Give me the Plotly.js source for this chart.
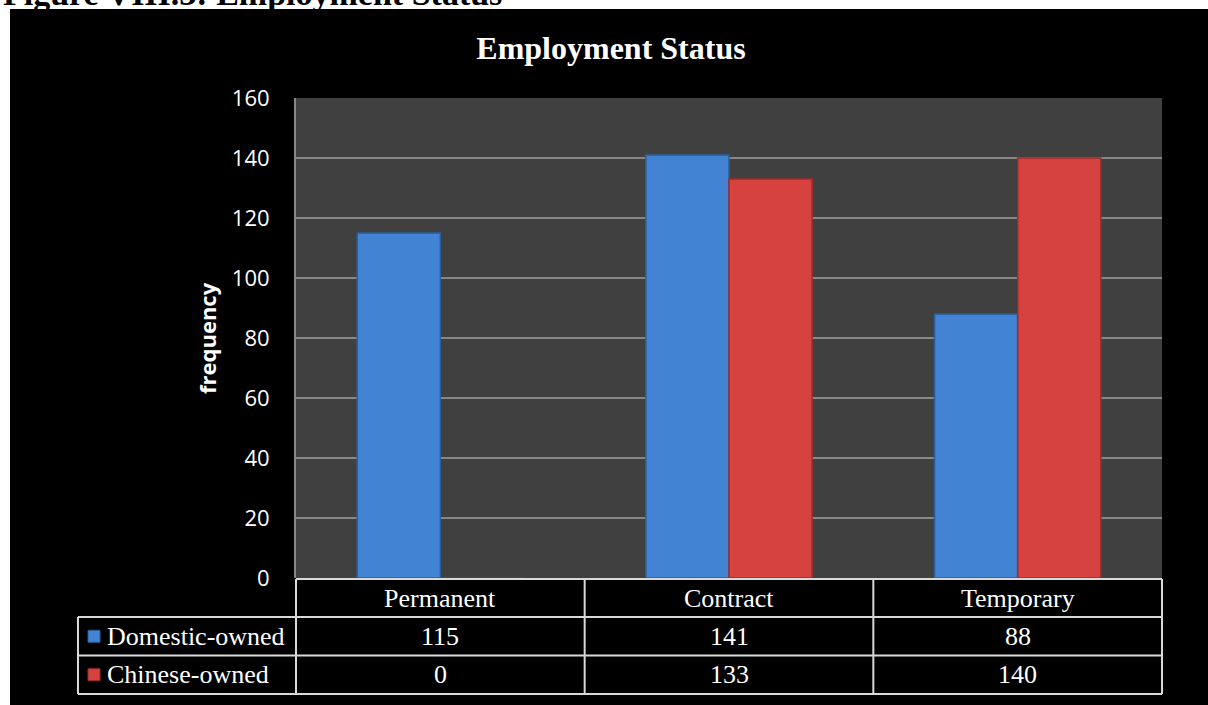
<!DOCTYPE html>
<html>
<head>
<meta charset="utf-8">
<script src="https://cdn.plot.ly/plotly-3.0.1.min.js"></script>
<style>html,body{margin:0;padding:0;background:#fff;}#chart{width:1208px;height:705px;}</style>
</head>
<body>
<div id="chart"></div>
<script>
// ---- data ----
const categories = ['Permanent', 'Contract', 'Temporary'];
const seriesNames = ['Domestic-owned', 'Chinese-owned'];
const domesticOwned = [115, 141, 88];
const chineseOwned = [0, 133, 140];
const yTickValues = [0, 20, 40, 60, 80, 100, 120, 140, 160];
const chartTitle = 'Employment Status';
const figureCaption = 'Figure VIII.3: Employment Status';
const yAxisTitle = 'frequency';

// ---- geometry helpers (pixel -> paper) ----
const W = 1208, H = 705, L = 296, R = 1162, T = 98, B = 578;
const xp = px => (px - L) / (R - L);
const yp = py => (B - py) / (B - T);

const serif = 'Liberation Serif, Times New Roman, serif';
const sans = 'Open Sans, Liberation Sans, sans-serif';
const lineCol = '#d9d9d9';
const blue = '#4383d3', blueEdge = '#2c5e9c';
const red = '#d5423f', redEdge = '#9a2d2b';

const traces = [
  {type: 'bar', name: seriesNames[0], x: categories, y: domesticOwned,
   marker: {color: blue, line: {color: blueEdge, width: 1.5}}, hoverinfo: 'x+y+name'},
  {type: 'bar', name: seriesNames[1], x: categories, y: chineseOwned,
   marker: {color: red, line: {color: redEdge, width: 1.5}}, hoverinfo: 'x+y+name'}
];

const shapes = [];
const annotations = [];
function hline(py, px0, px1) {
  shapes.push({type: 'line', xref: 'paper', yref: 'paper', x0: xp(px0), x1: xp(px1), y0: yp(py), y1: yp(py),
               line: {color: lineCol, width: 2}, layer: 'above'});
}
function vlineX(xval, xref, py0, py1) {
  shapes.push({type: 'line', xref: xref, yref: 'paper', x0: xval, x1: xval, y0: yp(py0), y1: yp(py1),
               line: {color: lineCol, width: 2}, layer: 'above'});
}
// white page strips outside the black chart box
shapes.push({type: 'rect', xref: 'paper', yref: 'paper', x0: xp(-5), x1: xp(W + 5), y0: yp(9), y1: yp(-5),
             fillcolor: '#ffffff', line: {width: 0}, layer: 'above'});
shapes.push({type: 'rect', xref: 'paper', yref: 'paper', x0: xp(-5), x1: xp(10), y0: yp(H + 5), y1: yp(-5),
             fillcolor: '#ffffff', line: {width: 0}, layer: 'above'});

// data table grid
const rowTop = 579, row1 = 617, row2 = 655.5, rowBot = 694, legLeft = 78;
hline(rowTop, L, R);
hline(row1, legLeft, R);
hline(row2, legLeft, R);
hline(rowBot, legLeft, R);
vlineX(xp(legLeft), 'paper', row1, rowBot);
vlineX(0, 'paper', rowTop, rowBot);
vlineX(1, 'paper', rowTop, rowBot);
for (let i = 0; i < categories.length - 1; i++) vlineX(i + 0.5, 'x', rowTop, rowBot);

// legend keys
const keyColors = [blue, red];
const rowCenters = [(row1 + row2) / 2, (row2 + rowBot) / 2];
seriesNames.forEach((nm, i) => {
  const cy = rowCenters[i];
  shapes.push({type: 'rect', xref: 'paper', yref: 'paper', x0: xp(88), x1: xp(100), y0: yp(cy + 6), y1: yp(cy - 6),
               fillcolor: keyColors[i], line: {color: i === 0 ? blueEdge : redEdge, width: 1}, layer: 'above'});
  annotations.push({xref: 'paper', yref: 'paper', x: xp(105), y: yp(cy), xanchor: 'left', yanchor: 'middle',
                    text: nm, showarrow: false, font: {family: serif, size: 26, color: '#ffffff'}});
});
// header row and values
const seriesValues = [domesticOwned, chineseOwned];
categories.forEach((c, j) => {
  annotations.push({xref: 'x', yref: 'paper', x: c, y: yp((rowTop + row1) / 2), xanchor: 'center', yanchor: 'middle',
                    text: c, showarrow: false, font: {family: serif, size: 26, color: '#ffffff'}});
  seriesValues.forEach((vals, i) => {
    annotations.push({xref: 'x', yref: 'paper', x: c, y: yp(rowCenters[i]), xanchor: 'center', yanchor: 'middle',
                      text: String(vals[j]), showarrow: false, font: {family: serif, size: 26, color: '#ffffff'}});
  });
});
// y axis title (rotated)
annotations.push({xref: 'paper', yref: 'paper', x: xp(207), y: yp(338), xanchor: 'center', yanchor: 'middle',
                  textangle: -90, text: '<b>' + yAxisTitle + '</b>', showarrow: false,
                  font: {family: sans, size: 22, color: '#ffffff'}});
// figure caption (cut off at the top of the page, as in the source)
annotations.push({xref: 'paper', yref: 'paper', x: xp(1), y: yp(14), xanchor: 'left', yanchor: 'bottom',
                  text: '<b>' + figureCaption + '</b>', showarrow: false,
                  font: {family: serif, size: 34, color: '#000000'}});

const layout = {
  width: W, height: H,
  margin: {l: L, r: W - R, t: T, b: H - B, pad: 0},
  paper_bgcolor: '#000000',
  plot_bgcolor: '#404040',
  showlegend: false,
  barmode: 'group',
  bargap: 0.424,
  bargroupgap: 0,
  title: {text: '<b>' + chartTitle + '</b>', font: {family: serif, size: 32, color: '#ffffff'},
          xref: 'container', yref: 'container', x: 611 / W, y: 1 - 59 / H, xanchor: 'center', yanchor: 'bottom'},
  xaxis: {type: 'category', showticklabels: false, showgrid: false, zeroline: false, showline: false,
          ticks: '', fixedrange: true},
  yaxis: {range: [0, 160], tickvals: yTickValues, ticktext: yTickValues.map(String),
          showgrid: true, gridcolor: '#878787', gridwidth: 1.5, zeroline: false,
          showline: true, linecolor: '#878787', linewidth: 2, ticks: '', ticklabelstandoff: 20,
          tickfont: {family: sans, size: 22, color: '#ffffff'}, fixedrange: true},
  shapes: shapes,
  annotations: annotations
};

Plotly.newPlot('chart', traces, layout, {displayModeBar: false, staticPlot: false});
</script>
</body>
</html>
